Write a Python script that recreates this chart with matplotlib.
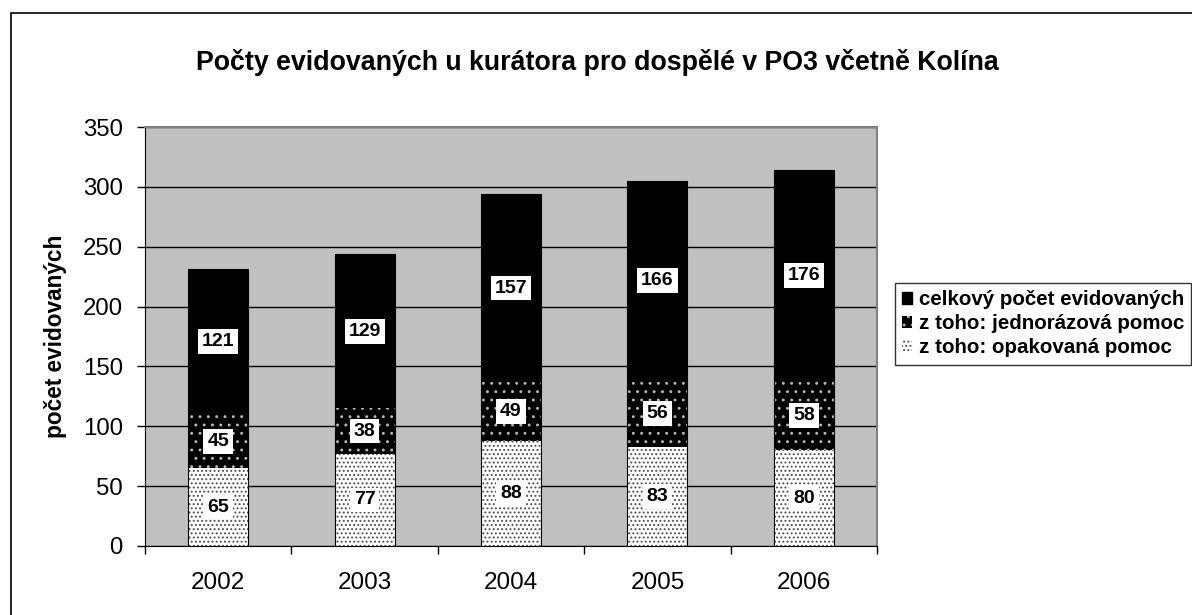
import matplotlib
matplotlib.use("Agg")
import matplotlib.pyplot as plt
import matplotlib.patches as mpatches
import numpy as np

plt.rcParams['font.family'] = ['Liberation Sans', 'DejaVu Sans']
plt.rcParams['hatch.linewidth'] = 0.9

years = ["2002", "2003", "2004", "2005", "2006"]
opakovana = [65, 77, 88, 83, 80]
jednorazova = [45, 38, 49, 56, 58]
celkovy = [121, 129, 157, 166, 176]
yticks = [0, 50, 100, 150, 200, 250, 300, 350]

labels = ["celkový počet evidovaných", "z toho: jednorázová pomoc", "z toho: opakovaná pomoc"]

fig = plt.figure(figsize=(11.92, 6.15), dpi=100)
ax = fig.add_axes([145 / 1192, 1 - 546 / 615, 732 / 1192, 419 / 615])
ax.set_facecolor("#c0c0c0")

# outer chart border (only left and top visible)
fig.patches.append(mpatches.Rectangle((11 / 1192, -0.05), 1.1, 1 - 13 / 615 + 0.05,
                                      transform=fig.transFigure, fill=False,
                                      edgecolor="black", linewidth=1.2, zorder=0))

x = np.arange(len(years))
w = 0.41
b1 = np.array(opakovana)
b2 = b1 + np.array(jednorazova)

ax.bar(x, opakovana, w, color="white", hatch="....", edgecolor="#505050", linewidth=0, zorder=3)
ax.bar(x, jednorazova, w, bottom=b1, color="black", hatch="..", edgecolor="#b8b8b8", linewidth=0, zorder=3)
ax.bar(x, celkovy, w, bottom=b2, color="black", linewidth=0, zorder=3)
ax.bar(x, b2 + np.array(celkovy), w, fill=False, edgecolor="black", linewidth=0.8, zorder=4)

for i in range(len(years)):
    segs = [(0, opakovana[i]), (b1[i], jednorazova[i]), (b2[i], celkovy[i])]
    for bot, val in segs:
        ax.text(x[i], bot + val / 2, str(val), ha="center", va="center",
                fontsize=14, fontweight="bold", color="black", zorder=5,
                bbox=dict(boxstyle="square,pad=0.2", facecolor="white", edgecolor="none"))

ax.set_xlim(-0.5, len(years) - 0.5)
ax.set_ylim(0, 350)
ax.set_yticks(yticks)
ax.set_yticklabels([str(v) for v in yticks], fontsize=17.3)
ax.yaxis.grid(True, color="black", linewidth=1)
ax.set_axisbelow(True)

ax.set_xticks(x)
ax.set_xticklabels(years, fontsize=17.5)
ax.set_xticks(np.arange(len(years) + 1) - 0.5, minor=True)
ax.tick_params(axis="x", which="major", length=0, pad=19)
ax.tick_params(axis="x", which="minor", length=6, direction="out", width=1)
ax.tick_params(axis="y", length=6, direction="out", width=1, pad=10)

ax.spines["top"].set_color("#808080")
ax.spines["right"].set_color("#808080")
ax.spines["top"].set_linewidth(1.5)
ax.spines["right"].set_linewidth(1.5)
ax.spines["left"].set_color("black")
ax.spines["bottom"].set_color("black")

ax.set_ylabel("počet evidovaných", fontsize=16.3, fontweight="bold", labelpad=11)

fig.text(597 / 1192, 1 - 62 / 615, "Počty evidovaných u kurátora pro dospělé v PO3 včetně Kolína",
         ha="center", va="center", fontsize=19.3, fontweight="bold")

handles = [
    mpatches.Patch(facecolor="black", edgecolor="black"),
    mpatches.Patch(facecolor="black", edgecolor="#b8b8b8", hatch="..", linewidth=0),
    mpatches.Patch(facecolor="white", edgecolor="#505050", hatch="....", linewidth=0),
]
leg = fig.legend(handles, labels, loc="upper left", bbox_to_anchor=(895 / 1192, 1 - 283 / 615),
                 fancybox=False, frameon=True, edgecolor="black",
                 prop={"weight": "bold", "size": 14.8}, handlelength=0.5, handleheight=0.5,
                 handletextpad=0.3, labelspacing=0.25, borderpad=0.35, borderaxespad=0)
leg.get_frame().set_linewidth(1)

fig.savefig("out.png", dpi=100)
